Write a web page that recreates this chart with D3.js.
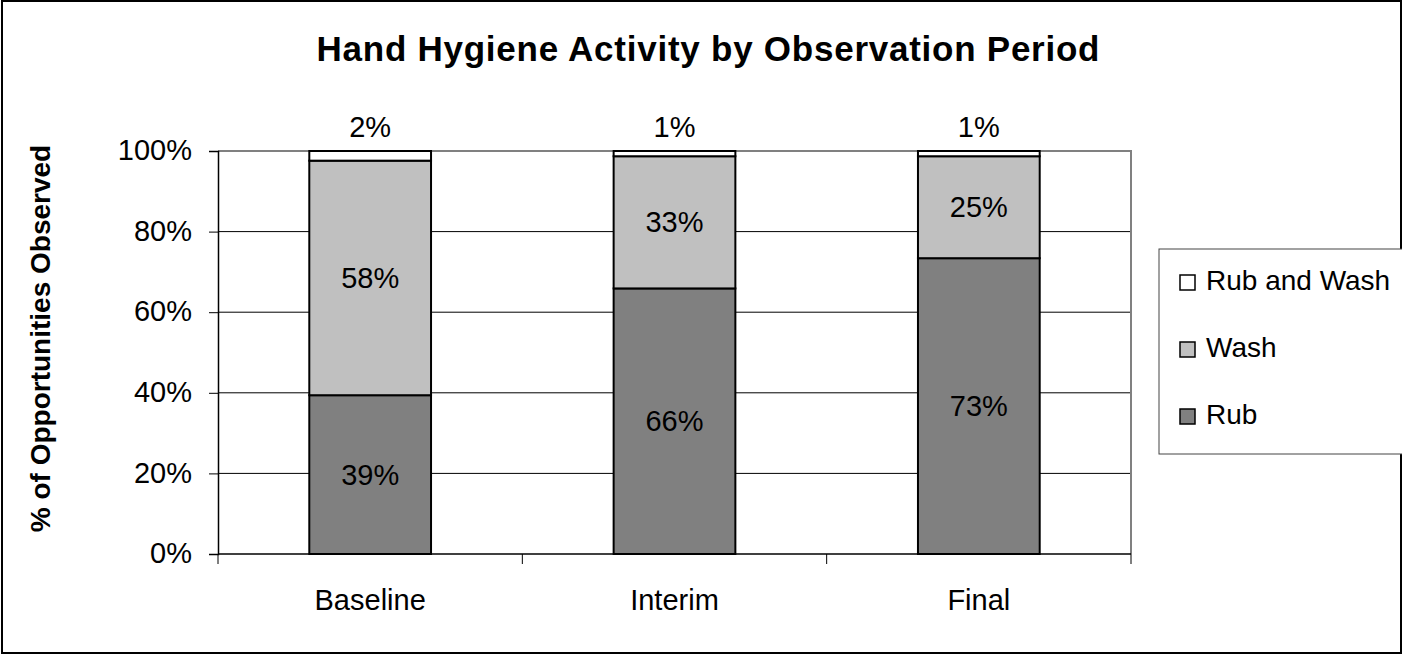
<!DOCTYPE html>
<html>
<head>
<meta charset="utf-8">
<script src="https://cdn.jsdelivr.net/npm/d3@7"></script>
<style>
  html, body { margin: 0; padding: 0; background: #fff; }
  svg { display: block; font-family: "Liberation Sans", Arial, sans-serif; }
</style>
</head>
<body>
<div id="chart"></div>
<script>
const categories = ['Baseline', 'Interim', 'Final'];
const seriesNames = ['Rub', 'Wash', 'Rub and Wash'];
const rubValues = [39.4, 65.9, 73.4];
const washValues = [58.2, 32.8, 25.3];
const rubWashValues = [2.4, 1.3, 1.3];
const yTicks = [0, 20, 40, 60, 80, 100];
const seriesColors = ['#808080', '#c0c0c0', '#ffffff'];

const width = 1402, height = 654;
const plot = { left: 218, right: 1131, top: 151, bottom: 554 };
const labelSize = 29;

const rows = categories.map((c, i) => ({
  category: c,
  'Rub': rubValues[i],
  'Wash': washValues[i],
  'Rub and Wash': rubWashValues[i]
}));

const svg = d3.select('#chart').append('svg')
  .attr('width', width)
  .attr('height', height);

// outer frame
svg.append('rect')
  .attr('x', 2).attr('y', 1)
  .attr('width', width - 3).attr('height', height - 2)
  .attr('fill', '#fff')
  .attr('stroke', '#000')
  .attr('stroke-width', 2);

const x = d3.scaleBand()
  .domain(categories)
  .range([plot.left, plot.right])
  .paddingInner(0.6)
  .paddingOuter(0.3);

const y = d3.scaleLinear()
  .domain([0, 100])
  .range([plot.bottom, plot.top]);

// gridlines
svg.append('g')
  .selectAll('line')
  .data(yTicks.filter(t => t > 0))
  .join('line')
  .attr('x1', plot.left).attr('x2', plot.right)
  .attr('y1', d => y(d)).attr('y2', d => y(d))
  .attr('stroke', '#000')
  .attr('stroke-width', 1);

// plot border (top and right)
svg.append('path')
  .attr('d', `M${plot.left},${plot.top}H${plot.right}V${plot.bottom}`)
  .attr('fill', 'none')
  .attr('stroke', '#808080')
  .attr('stroke-width', 2);

// y axis
const yAxis = svg.append('g')
  .attr('transform', `translate(${plot.left},0)`)
  .call(d3.axisLeft(y).tickValues(yTicks).tickFormat(d => d + '%').tickSize(9).tickPadding(17));
yAxis.select('.domain').attr('stroke', '#000').attr('stroke-width', 1.5);
yAxis.selectAll('.tick line').attr('stroke', '#000');
yAxis.selectAll('.tick text')
  .attr('font-size', labelSize)
  .attr('fill', '#000')
  .attr('dy', '0.3em')
  .attr('font-family', '"Liberation Sans", Arial, sans-serif');

// x axis with ticks at category boundaries
const xAxisG = svg.append('g');
xAxisG.append('line')
  .attr('x1', plot.left).attr('x2', plot.right)
  .attr('y1', plot.bottom).attr('y2', plot.bottom)
  .attr('stroke', '#000').attr('stroke-width', 1.5);
const boundaries = d3.range(categories.length + 1).map(i => plot.left + i * (plot.right - plot.left) / categories.length);
xAxisG.selectAll('line.tk')
  .data(boundaries)
  .join('line')
  .attr('class', 'tk')
  .attr('x1', d => d).attr('x2', d => d)
  .attr('y1', plot.bottom).attr('y2', plot.bottom + 10)
  .attr('stroke', '#000');
xAxisG.selectAll('text')
  .data(categories)
  .join('text')
  .attr('x', d => x(d) + x.bandwidth() / 2)
  .attr('y', 610)
  .attr('text-anchor', 'middle')
  .attr('font-size', labelSize)
  .text(d => d);

// stacked bars
const stack = d3.stack().keys(seriesNames);
const layers = stack(rows);

const layerG = svg.append('g')
  .selectAll('g')
  .data(layers)
  .join('g')
  .attr('fill', (d, i) => seriesColors[i]);

layerG.selectAll('rect')
  .data(d => d)
  .join('rect')
  .attr('x', d => x(d.data.category))
  .attr('width', x.bandwidth())
  .attr('y', d => y(d[1]))
  .attr('height', d => y(d[0]) - y(d[1]))
  .attr('stroke', '#000')
  .attr('stroke-width', 2);

// data labels
layers.forEach((layer, li) => {
  svg.append('g').selectAll('text')
    .data(layer)
    .join('text')
    .attr('x', d => x(d.data.category) + x.bandwidth() / 2)
    .attr('y', d => li === 2 ? y(d[1]) - 14 : (y(d[0]) + y(d[1])) / 2 + 10)
    .attr('text-anchor', 'middle')
    .attr('font-size', labelSize)
    .text(d => Math.round(d[1] - d[0]) + '%');
});

// title
svg.append('text')
  .attr('x', 708).attr('y', 61)
  .attr('text-anchor', 'middle')
  .attr('font-size', 35)
  .attr('font-weight', 'bold')
  .attr('textLength', 783)
  .attr('lengthAdjust', 'spacing')
  .text('Hand Hygiene Activity by Observation Period');

// y axis title
svg.append('text')
  .attr('transform', `translate(50,${(plot.top + plot.bottom) / 2 - 14}) rotate(-90)`)
  .attr('text-anchor', 'middle')
  .attr('font-size', 28)
  .attr('font-weight', 'bold')
  .text('% of Opportunities Observed');

// legend
const legend = svg.append('g');
legend.append('rect')
  .attr('x', 1159).attr('y', 249)
  .attr('width', 260).attr('height', 205)
  .attr('fill', '#fff')
  .attr('stroke', '#444')
  .attr('stroke-width', 1);
const legendOrder = [2, 1, 0];
legendOrder.forEach((si, k) => {
  const base = 290 + k * 67;
  legend.append('rect')
    .attr('x', 1180).attr('y', base - 15)
    .attr('width', 15).attr('height', 15)
    .attr('fill', seriesColors[si])
    .attr('stroke', '#000')
    .attr('stroke-width', 1.5);
  legend.append('text')
    .attr('x', 1206).attr('y', base)
    .attr('font-size', 28)
    .text(seriesNames[si]);
});
</script>
</body>
</html>
